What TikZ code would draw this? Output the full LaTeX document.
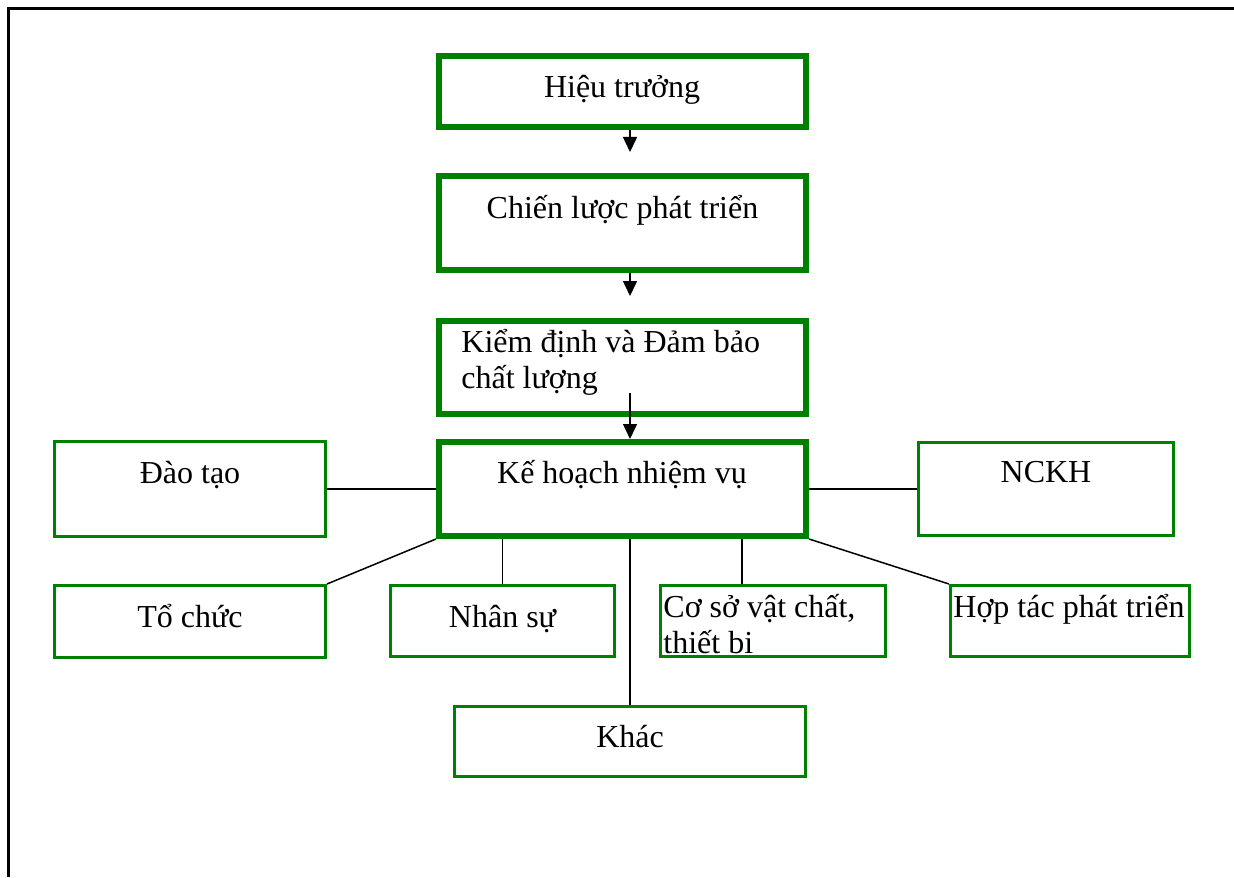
\documentclass[tikz,border=0pt]{standalone}
\usepackage{fontspec}
\setmainfont{Liberation Serif}
\usetikzlibrary{arrows.meta}
\definecolor{boxgreen}{RGB}{0,128,0}
\begin{document}
\begin{tikzpicture}[x=0.5pt,y=-0.5pt,
  thickbox/.style={draw=boxgreen,line width=3pt,fill=white,inner sep=0pt},
  thinbox/.style={draw=boxgreen,line width=1.5pt,fill=white,inner sep=0pt},
  lbl/.style={inner sep=0pt,anchor=base,font=\fontsize{16pt}{18pt}\selectfont},
  lbll/.style={inner sep=0pt,anchor=base west,font=\fontsize{16pt}{18pt}\selectfont},
  conn/.style={draw=black,line width=0.75pt},
  arr/.style={conn,-{Triangle[length=7.5pt,width=7pt]}}]
\useasboundingbox (0,0) rectangle (1234,877);
\fill[white] (0,0) rectangle (1234,877);
% outer frame
\draw[line width=1.5pt] (8,877) -- (8,9) -- (1234,9);
% boxes
\node[thickbox,minimum width=183.5pt,minimum height=35.5pt] (hieu) at (622.5,91.5) {};
\node[thickbox,minimum width=183.5pt,minimum height=47pt] (chien) at (622.5,223) {};
\node[thickbox,minimum width=183.5pt,minimum height=46.5pt] (kiem) at (622.5,367.5) {};
\node[thickbox,minimum width=183.5pt,minimum height=47pt] (kehoach) at (622.5,489) {};
\node[thinbox,minimum width=135.5pt,minimum height=47.5pt] (daotao) at (190,489) {};
\node[thinbox,minimum width=127.5pt,minimum height=46.5pt] (nckh) at (1046,489) {};
\node[thinbox,minimum width=135.5pt,minimum height=36pt] (tochuc) at (190,621.5) {};
\node[thinbox,minimum width=112pt,minimum height=35.5pt] (nhansu) at (502.5,621) {};
\node[thinbox,minimum width=112.5pt,minimum height=35.5pt] (coso) at (773,621) {};
\node[thinbox,minimum width=119.5pt,minimum height=35.5pt] (hoptac) at (1070,621) {};
\node[thinbox,minimum width=175.5pt,minimum height=35pt] (khac) at (630,741.5) {};
% texts
\node[lbl] (thieu) at (622,98) {Hiệu trưởng};
\node[lbl] (tchien) at (622.5,219) {Chiến lược phát triển};
\node[lbll] (tkiem) at (461,352) {\begin{tabular}[t]{@{}l@{}}Kiểm định và Đảm bảo\\chất lượng\end{tabular}};
\node[lbl] (tkehoach) at (622,483) {Kế hoạch nhiệm vụ};
\node[lbl] (tdaotao) at (190,483) {Đào tạo};
\node[lbl] (tnckh) at (1046,482) {NCKH};
\node[lbl] (ttochuc) at (190,627) {Tổ chức};
\node[lbl] (tnhansu) at (502.5,627) {Nhân sự};
\node[lbll] (tcoso) at (663,617) {\begin{tabular}[t]{@{}l@{}}Cơ sở vật chất,\\thiết bi\end{tabular}};
\node[lbll] (thoptac) at (953,617) {Hợp tác phát triển};
\node[lbl] (tkhac) at (630,747) {Khác};
% helper coordinates
\coordinate (ax) at (630,0);
\coordinate (cx) at (742,0);
\coordinate (e1) at (630,152);
\coordinate (e2) at (630,296);
\coordinate (s3) at (630,393);
% arrows
\draw[arr] (hieu.south -| ax) -- (e1);
\draw[arr] (chien.south -| ax) -- (e2);
\draw[arr] (s3) -- (kehoach.north -| ax);
% connectors
\draw[conn] (kehoach.west) -- (daotao.east);
\draw[conn] (kehoach.east) -- (nckh.west);
\draw[conn] (kehoach.south west) -- (tochuc.north east);
\draw[conn] (kehoach.south -| nhansu) -- (nhansu.north);
\draw[conn] (kehoach.south -| khac) -- (khac.north);
\draw[conn] (kehoach.south -| cx) -- (coso.north -| cx);
\draw[conn] (kehoach.south east) -- (hoptac.north west);
\end{tikzpicture}
\end{document}
